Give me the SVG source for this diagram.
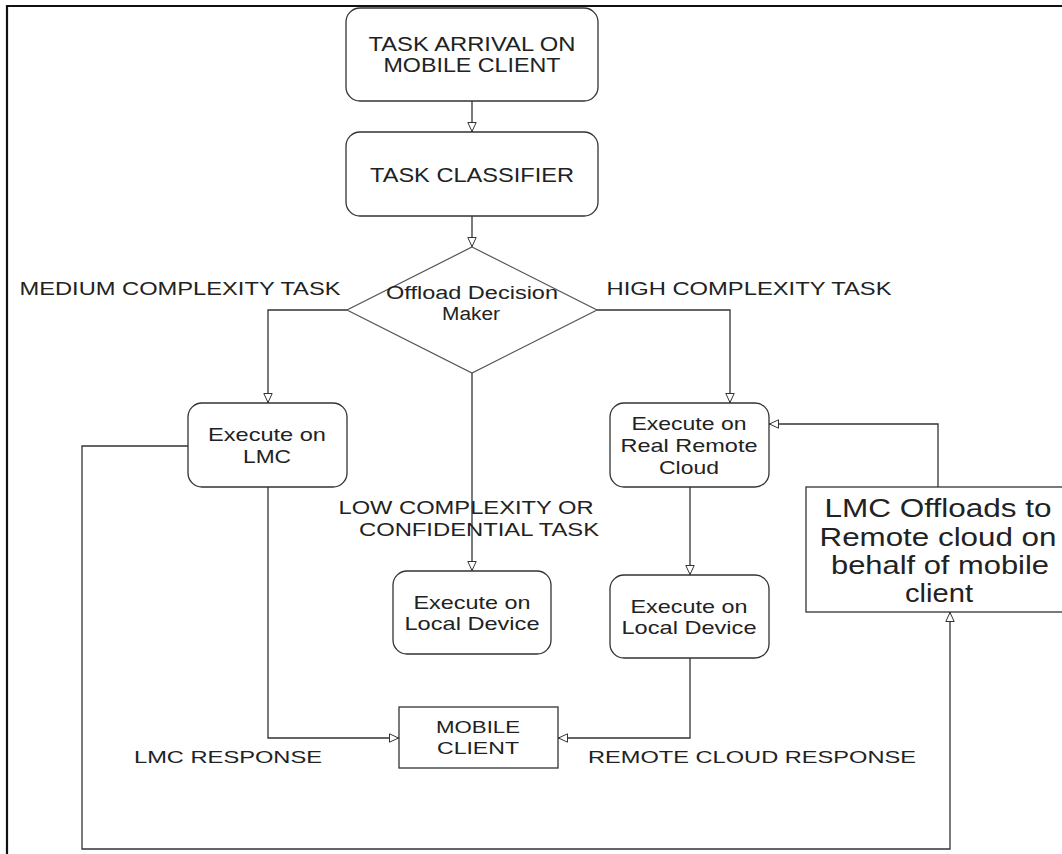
<svg xmlns="http://www.w3.org/2000/svg" width="1062" height="854" viewBox="0 0 1062 854">
<style>
.n{fill:#fff;stroke:#333;stroke-width:1.3}
.d{fill:#fff;stroke:#555;stroke-width:1.2}
.c{fill:none;stroke:#333;stroke-width:1.3}
text{font-family:"Liberation Sans",Arial,sans-serif;fill:#222;text-anchor:middle}
.t21{font-size:21px}
.t19{font-size:19px}
.t18{font-size:18px}
.t17{font-size:17px}
.t25{font-size:25px}
</style>
<defs>
<marker id="a" viewBox="0 0 10 10" refX="10" refY="5" markerWidth="10" markerHeight="10" markerUnits="userSpaceOnUse" orient="auto">
<path d="M0.5,0.8 L9.5,5 L0.5,9.2 Z" fill="#fff" stroke="#333" stroke-width="1"/>
</marker>
</defs>
<rect width="1062" height="854" fill="#fff"/>
<path d="M7,854 V6 H1062" fill="none" stroke="#111" stroke-width="2.2"/>
<g id="connectors">
<path class="c" d="M472,101 V132" marker-end="url(#a)"/>
<path class="c" d="M472,216 V247" marker-end="url(#a)"/>
<path class="c" d="M347,310 H268 V403" marker-end="url(#a)"/>
<path class="c" d="M597,310 H730 V403" marker-end="url(#a)"/>
<path class="c" d="M472,373 V571" marker-end="url(#a)"/>
<path class="c" d="M690,487 V575" marker-end="url(#a)"/>
<path class="c" d="M268,487 V738 H399" marker-end="url(#a)"/>
<path class="c" d="M690,658 V738 H558" marker-end="url(#a)"/>
<path class="c" d="M188,446 H82 V849 H950 V612" marker-end="url(#a)"/>
<path class="c" d="M938,487 V424 H769" marker-end="url(#a)"/>
</g>
<g id="task-arrival">
<rect class="n" x="346" y="8" width="252" height="93" rx="14"/>
<text class="t21" x="472" y="51" textLength="207" lengthAdjust="spacingAndGlyphs">TASK ARRIVAL ON</text>
<text class="t21" x="472" y="72" textLength="177" lengthAdjust="spacingAndGlyphs">MOBILE CLIENT</text>
</g>
<g id="task-classifier">
<rect class="n" x="346" y="132" width="252" height="84" rx="14"/>
<text class="t21" x="472" y="182" textLength="204" lengthAdjust="spacingAndGlyphs">TASK CLASSIFIER</text>
</g>
<g id="offload-decision">
<path class="d" d="M472,247 L597,310 L472,373 L347,310 Z"/>
<text class="t18" x="472" y="299" textLength="172" lengthAdjust="spacingAndGlyphs">Offload Decision</text>
<text class="t18" x="471" y="320" textLength="58" lengthAdjust="spacingAndGlyphs">Maker</text>
</g>
<g id="label-medium">
<text class="t18" x="180" y="295" textLength="321" lengthAdjust="spacingAndGlyphs">MEDIUM COMPLEXITY TASK</text>
</g>
<g id="label-high">
<text class="t18" x="749" y="295" textLength="285" lengthAdjust="spacingAndGlyphs">HIGH COMPLEXITY TASK</text>
</g>
<g id="execute-lmc">
<rect class="n" x="188" y="403" width="159" height="84" rx="14"/>
<text class="t19" x="267" y="441" textLength="118" lengthAdjust="spacingAndGlyphs">Execute on</text>
<text class="t19" x="267" y="463" textLength="48" lengthAdjust="spacingAndGlyphs">LMC</text>
</g>
<g id="execute-remote">
<rect class="n" x="610" y="403" width="159" height="84" rx="14"/>
<text class="t19" x="689" y="430" textLength="115" lengthAdjust="spacingAndGlyphs">Execute on</text>
<text class="t19" x="689" y="452" textLength="137" lengthAdjust="spacingAndGlyphs">Real Remote</text>
<text class="t19" x="689" y="474" textLength="60" lengthAdjust="spacingAndGlyphs">Cloud</text>
</g>
<g id="label-low">
<text class="t18" x="466" y="514" textLength="255" lengthAdjust="spacingAndGlyphs">LOW COMPLEXITY OR</text>
<text class="t18" x="479" y="536" textLength="240" lengthAdjust="spacingAndGlyphs">CONFIDENTIAL TASK</text>
</g>
<g id="execute-local-1">
<rect class="n" x="393" y="571" width="158" height="83" rx="14"/>
<text class="t19" x="472" y="609" textLength="117" lengthAdjust="spacingAndGlyphs">Execute on</text>
<text class="t19" x="472" y="630" textLength="135" lengthAdjust="spacingAndGlyphs">Local Device</text>
</g>
<g id="execute-local-2">
<rect class="n" x="610" y="575" width="159" height="83" rx="14"/>
<text class="t19" x="689" y="613" textLength="117" lengthAdjust="spacingAndGlyphs">Execute on</text>
<text class="t19" x="689" y="634" textLength="135" lengthAdjust="spacingAndGlyphs">Local Device</text>
</g>
<g id="lmc-offloads">
<rect class="n" x="806" y="487" width="264" height="125"/>
<text class="t25" x="938" y="517" textLength="227" lengthAdjust="spacingAndGlyphs">LMC Offloads to</text>
<text class="t25" x="938" y="546" textLength="237" lengthAdjust="spacingAndGlyphs">Remote cloud on</text>
<text class="t25" x="940" y="574" textLength="218" lengthAdjust="spacingAndGlyphs">behalf of mobile</text>
<text class="t25" x="939" y="602" textLength="68" lengthAdjust="spacingAndGlyphs">client</text>
</g>
<g id="mobile-client">
<rect class="n" x="399" y="707" width="159" height="61"/>
<text class="t17" x="478" y="733" textLength="84" lengthAdjust="spacingAndGlyphs">MOBILE</text>
<text class="t17" x="478" y="754" textLength="82" lengthAdjust="spacingAndGlyphs">CLIENT</text>
</g>
<g id="label-lmc-response">
<text class="t17" x="228" y="763" textLength="188" lengthAdjust="spacingAndGlyphs">LMC RESPONSE</text>
</g>
<g id="label-remote-response">
<text class="t17" x="752" y="763" textLength="328" lengthAdjust="spacingAndGlyphs">REMOTE CLOUD RESPONSE</text>
</g>
</svg>
